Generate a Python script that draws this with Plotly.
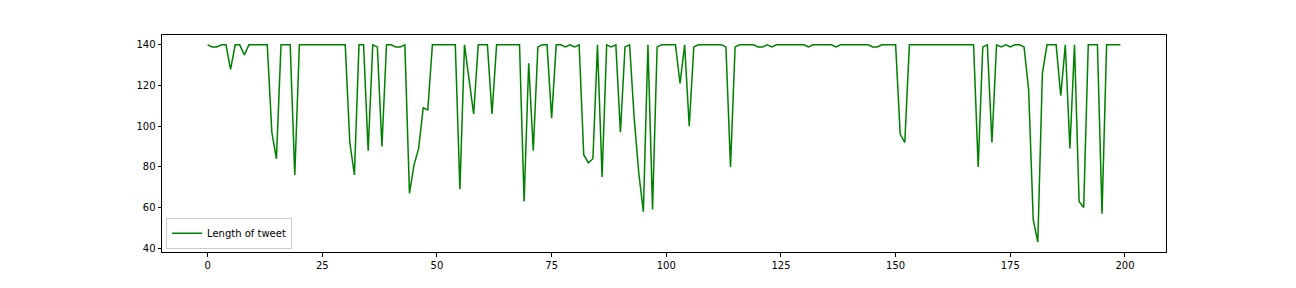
import plotly.graph_objects as go

idx = list(range(200))
lengths = [
    140, 139, 139, 140, 140, 128, 140, 140, 135, 140,   # 0-9
    140, 140, 140, 140, 97, 84, 140, 140, 140, 76,      # 10-19
    140, 140, 140, 140, 140, 140, 140, 140, 140, 140,   # 20-29
    140, 92, 76, 140, 140, 88, 140, 139, 90, 140,       # 30-39
    140, 139, 139, 140, 67, 81, 89, 109, 108, 140,      # 40-49
    140, 140, 140, 140, 140, 69, 140, 123, 106, 140,    # 50-59
    140, 140, 106, 140, 140, 140, 140, 140, 140, 63,    # 60-69
    131, 88, 139, 140, 140, 104, 140, 140, 139, 140,    # 70-79
    139, 140, 86, 82, 84, 140, 75, 140, 139, 140,       # 80-89
    97, 139, 140, 104, 77, 58, 140, 59, 139, 140,       # 90-99
    140, 140, 140, 121, 140, 100, 139, 140, 140, 140,   # 100-109
    140, 140, 140, 139, 80, 139, 140, 140, 140, 140,    # 110-119
    139, 139, 140, 139, 140, 140, 140, 140, 140, 140,   # 120-129
    140, 139, 140, 140, 140, 140, 140, 139, 140, 140,   # 130-139
    140, 140, 140, 140, 140, 139, 139, 140, 140, 140,   # 140-149
    140, 96, 92, 140, 140, 140, 140, 140, 140, 140,     # 150-159
    140, 140, 140, 140, 140, 140, 140, 140, 80, 139,    # 160-169
    140, 92, 140, 139, 140, 139, 140, 140, 139, 118,    # 170-179
    54, 43, 126, 140, 140, 140, 115, 140, 89, 140,      # 180-189
    63, 60, 140, 140, 140, 57, 140, 140, 140, 140,      # 190-199
]
x_ticks = [0, 25, 50, 75, 100, 125, 150, 175, 200]
y_ticks = [40, 60, 80, 100, 120, 140]

fig = go.Figure()
fig.add_trace(go.Scatter(
    x=idx, y=lengths, mode="lines", name="Length of tweet",
    line=dict(color="#008000", width=1.5),
))

axis_common = dict(
    showgrid=False, zeroline=False, showline=True, linecolor="black",
    linewidth=1, mirror=True, ticks="outside", ticklen=3.5, tickwidth=1,
    tickcolor="black", tickfont=dict(family="DejaVu Sans", size=10, color="black"),
)
fig.update_xaxes(range=[-9.95, 208.95], tickvals=x_ticks, **axis_common)
fig.update_yaxes(range=[38.15, 144.85], tickvals=y_ticks, **axis_common)

fig.update_layout(
    width=1296, height=288,
    margin=dict(l=162, r=130, t=35, b=36),
    paper_bgcolor="white", plot_bgcolor="white",
    font=dict(family="DejaVu Sans", size=10, color="black"),
    showlegend=True,
    legend=dict(
        x=0.004, y=0.015, xanchor="left", yanchor="bottom",
        bgcolor="rgba(255,255,255,0.8)", bordercolor="#cccccc", borderwidth=1,
        font=dict(family="DejaVu Sans", size=10, color="black"),
        itemwidth=30, tracegroupgap=0,
    ),
)

fig.write_html("out.html")
